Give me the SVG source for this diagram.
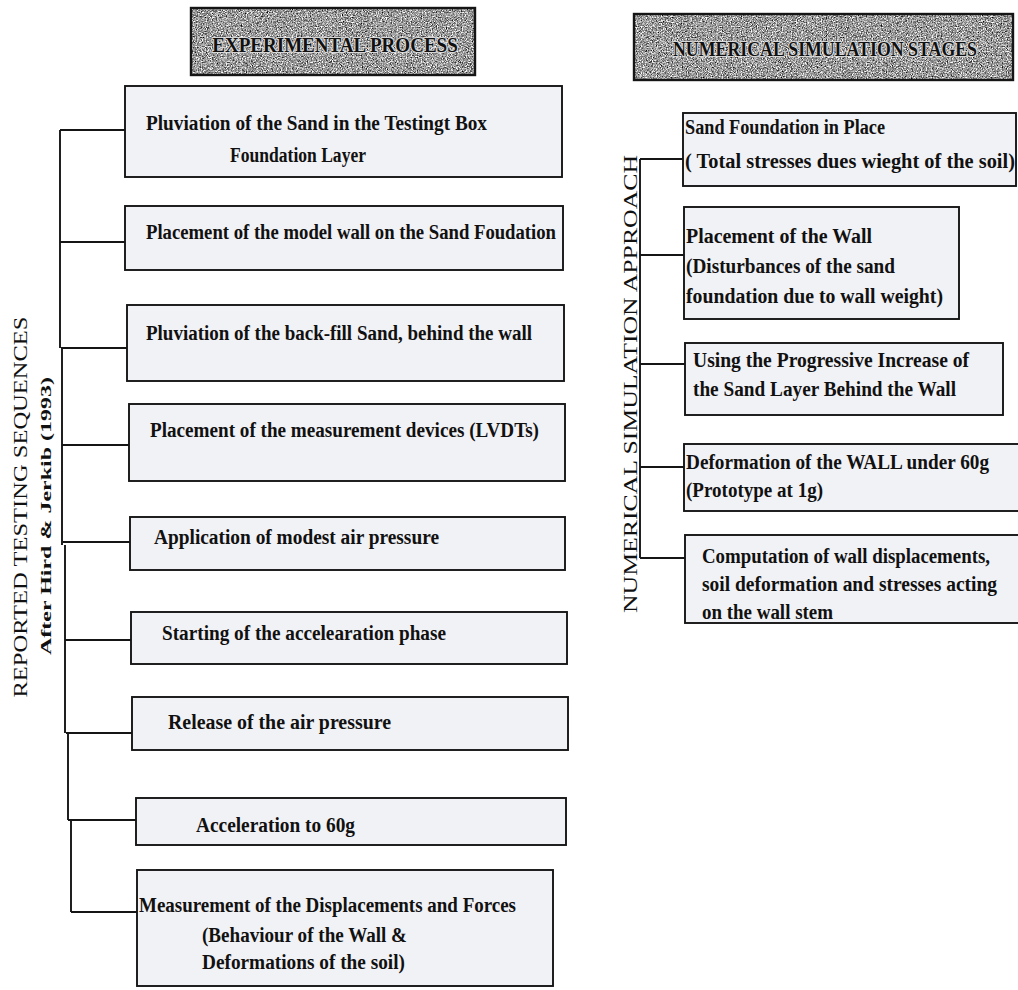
<svg xmlns="http://www.w3.org/2000/svg" width="1018" height="990" viewBox="0 0 1018 990">
<defs>
<filter id="grain" x="0" y="0" width="1" height="1" filterUnits="objectBoundingBox" color-interpolation-filters="sRGB">
<feTurbulence type="fractalNoise" baseFrequency="0.8" numOctaves="3" seed="7" result="n"/>
<feColorMatrix in="n" type="matrix" values="0.33 0.33 0.33 0 0 0.33 0.33 0.33 0 0 0.33 0.33 0.33 0 0 0 0 0 0 1" result="g"/>
<feComponentTransfer in="g" result="c">
<feFuncR type="linear" slope="2.8" intercept="-0.78"/>
<feFuncG type="linear" slope="2.8" intercept="-0.78"/>
<feFuncB type="linear" slope="2.8" intercept="-0.78"/>
</feComponentTransfer>
<feComposite in="c" in2="SourceGraphic" operator="in"/>
</filter>
</defs>
<style>
.box{fill:#f1f2f6;stroke:#151515;stroke-width:1.9}
.title{fill:#9c9c9c;stroke:none}
.tframe{fill:none;stroke:#151515;stroke-width:2.4}
.t{font-family:"Liberation Serif","Times New Roman",serif;font-weight:bold;font-size:20px;fill:#111}
.tt{font-family:"Liberation Serif","Times New Roman",serif;font-weight:bold;font-size:21px;fill:#111;stroke:#d8d8d8;stroke-width:2.2;paint-order:stroke;stroke-linejoin:round}
.side{font-family:"Liberation Serif","Times New Roman",serif;font-size:18px;fill:#111}
.sideb{font-family:"Liberation Serif","Times New Roman",serif;font-weight:bold;font-size:15px;fill:#111}
.ln{fill:none;stroke:#151515;stroke-width:1.9}
</style>
<rect x="0" y="0" width="1018" height="990" fill="#ffffff"/>

<g id="title-experimental">
<rect class="title" x="191" y="8" width="284" height="67" filter="url(#grain)"/>
<rect class="tframe" x="191" y="8" width="284" height="67"/>
<text class="tt" transform="translate(335,52) scale(0.8,1)" text-anchor="middle" textLength="307" lengthAdjust="spacingAndGlyphs">EXPERIMENTAL PROCESS</text>
</g>

<g id="title-numerical">
<rect class="title" x="634" y="14" width="379" height="66" filter="url(#grain)"/>
<rect class="tframe" x="634" y="14" width="379" height="66"/>
<text class="tt" transform="translate(825,56) scale(0.8,1)" text-anchor="middle" textLength="380" lengthAdjust="spacingAndGlyphs">NUMERICAL SIMULATION STAGES</text>
</g>

<g id="label-reported">
<text class="side" transform="translate(27,507) rotate(-90)" text-anchor="middle" textLength="381" lengthAdjust="spacingAndGlyphs">REPORTED TESTING SEQUENCES</text>
<text class="sideb" transform="translate(51,516) rotate(-90)" text-anchor="middle" textLength="278" lengthAdjust="spacingAndGlyphs">After Hird &amp; Jerkib (1993)</text>
</g>

<g id="label-numerical-approach">
<text class="side" transform="translate(637,384) rotate(-90)" text-anchor="middle" textLength="458" lengthAdjust="spacingAndGlyphs">NUMERICAL SIMULATION APPROACH</text>
</g>

<g id="connectors">
<path class="ln" d="M60 130 V348 M62 348 V545 M65 545 V733 M68 733 V820 M71 820 V912"/>
<path class="ln" d="M60 130 H125 M60 242 H125 M61 348 H127 M62 445 H129 M63 542 H130 M65 640 H131 M66 733 H132 M68 820 H136 M71 912 H137"/>
<path class="ln" d="M640 159 V558"/>
<path class="ln" d="M640 159 H683 M640 255 H684 M640 364 H685 M640 467 H684 M640 558 H685"/>
</g>

<g id="exp1">
<rect class="box" x="125" y="86" width="437" height="91"/>
<text class="t" x="146" y="130" textLength="341" lengthAdjust="spacingAndGlyphs">Pluviation of the Sand in the Testingt Box</text>
<text class="t" x="230" y="162" textLength="136" lengthAdjust="spacingAndGlyphs">Foundation Layer</text>
</g>
<g id="exp2">
<rect class="box" x="125" y="206" width="438" height="64"/>
<text class="t" x="146" y="239" textLength="410" lengthAdjust="spacingAndGlyphs">Placement of the model wall on the Sand Foudation</text>
</g>
<g id="exp3">
<rect class="box" x="127" y="305" width="437" height="76"/>
<text class="t" x="146" y="340" textLength="386" lengthAdjust="spacingAndGlyphs">Pluviation of the back-fill Sand, behind the wall</text>
</g>
<g id="exp4">
<rect class="box" x="129" y="404" width="436" height="77"/>
<text class="t" x="150" y="437" textLength="389" lengthAdjust="spacingAndGlyphs">Placement of the measurement devices (LVDTs)</text>
</g>
<g id="exp5">
<rect class="box" x="130" y="517" width="435" height="53"/>
<text class="t" x="154" y="544" textLength="285" lengthAdjust="spacingAndGlyphs">Application of  modest air pressure</text>
</g>
<g id="exp6">
<rect class="box" x="131" y="612" width="436" height="52"/>
<text class="t" x="162" y="640" textLength="284" lengthAdjust="spacingAndGlyphs">Starting of the accelearation phase</text>
</g>
<g id="exp7">
<rect class="box" x="132" y="697" width="436" height="53"/>
<text class="t" x="168" y="729" textLength="223" lengthAdjust="spacingAndGlyphs">Release of the air pressure</text>
</g>
<g id="exp8">
<rect class="box" x="136" y="798" width="430" height="47"/>
<text class="t" x="196" y="832" textLength="159" lengthAdjust="spacingAndGlyphs">Acceleration to 60g</text>
</g>
<g id="exp9">
<rect class="box" x="137" y="870" width="416" height="116"/>
<text class="t" x="139" y="912" textLength="377" lengthAdjust="spacingAndGlyphs">Measurement of the Displacements and Forces</text>
<text class="t" x="202" y="942" textLength="205" lengthAdjust="spacingAndGlyphs">(Behaviour of the Wall &amp;</text>
<text class="t" x="202" y="969" textLength="203" lengthAdjust="spacingAndGlyphs">Deformations of the soil)</text>
</g>

<g id="num1">
<rect class="box" x="683" y="113" width="333" height="73"/>
<text class="t" x="685" y="134" textLength="200" lengthAdjust="spacingAndGlyphs">Sand Foundation in Place</text>
<text class="t" x="685" y="168" textLength="330" lengthAdjust="spacingAndGlyphs">( Total stresses dues wieght of the soil)</text>
</g>
<g id="num2">
<rect class="box" x="684" y="207" width="275" height="112"/>
<text class="t" x="686" y="243" textLength="186" lengthAdjust="spacingAndGlyphs">Placement of the Wall</text>
<text class="t" x="686" y="273" textLength="209" lengthAdjust="spacingAndGlyphs">(Disturbances of the sand</text>
<text class="t" x="686" y="303" textLength="257" lengthAdjust="spacingAndGlyphs">foundation due to wall weight)</text>
</g>
<g id="num3">
<rect class="box" x="685" y="343" width="318" height="72"/>
<text class="t" x="693" y="367" textLength="276" lengthAdjust="spacingAndGlyphs">Using the Progressive Increase of</text>
<text class="t" x="693" y="396" textLength="263" lengthAdjust="spacingAndGlyphs">the Sand Layer Behind the Wall</text>
</g>
<g id="num4">
<rect class="box" x="684" y="444" width="340" height="67"/>
<text class="t" x="686" y="469" textLength="303" lengthAdjust="spacingAndGlyphs">Deformation of the WALL under 60g</text>
<text class="t" x="686" y="497" textLength="137" lengthAdjust="spacingAndGlyphs">(Prototype at 1g)</text>
</g>
<g id="num5">
<rect class="box" x="685" y="535" width="340" height="88"/>
<text class="t" x="702" y="563" textLength="288" lengthAdjust="spacingAndGlyphs">Computation of wall displacements,</text>
<text class="t" x="702" y="591" textLength="295" lengthAdjust="spacingAndGlyphs">soil deformation and stresses acting</text>
<text class="t" x="702" y="619" textLength="131" lengthAdjust="spacingAndGlyphs">on the wall stem</text>
</g>
</svg>
